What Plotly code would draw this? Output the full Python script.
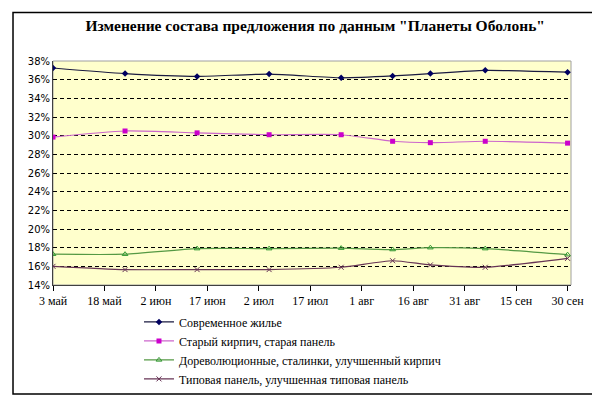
import plotly.graph_objects as go

dates = ["2004-05-03", "2004-05-24", "2004-06-14", "2004-07-05", "2004-07-26",
         "2004-08-10", "2004-08-21", "2004-09-06", "2004-09-30"]

modern = [37.25, 36.65, 36.35, 36.6, 36.2, 36.4, 36.65, 37.0, 36.8]
old_brick = [29.85, 30.5, 30.3, 30.1, 30.1, 29.4, 29.25, 29.4, 29.2]
stalin = [17.3, 17.3, 17.9, 17.9, 17.95, 17.8, 18.0, 17.9, 17.25]
panel = [16.0, 15.65, 15.65, 15.65, 15.9, 16.6, 16.15, 15.9, 16.85]

series_names = [
    "Современное жилье",
    "Старый кирпич, старая панель",
    "Дореволюционные, сталинки, улучшенный кирпич",
    "Типовая панель, улучшенная типовая панель",
]

tick_dates = ["2004-05-03", "2004-05-18", "2004-06-02", "2004-06-17", "2004-07-02",
              "2004-07-17", "2004-08-01", "2004-08-16", "2004-08-31", "2004-09-15",
              "2004-09-30"]
tick_labels = ["3 май", "18 май", "2 июн", "17 июн", "2 июл", "17 июл",
               "1 авг", "16 авг", "31 авг", "15 сен", "30 сен"]

title_text = 'Изменение состава предложения по данным "Планеты Оболонь"'

SERIF = "Liberation Serif, Times New Roman, serif"

styles = [
    dict(line=dict(color="#1a1a40", width=1.2, shape="spline", smoothing=0.6),
         marker=dict(symbol="diamond", size=5, color="#000060")),
    dict(line=dict(color="#cc66cc", width=1.2, shape="spline", smoothing=0.6),
         marker=dict(symbol="square", size=5, color="#cc00cc")),
    dict(line=dict(color="#559944", width=1.2, shape="spline", smoothing=0.6),
         marker=dict(symbol="triangle-up-open", size=5, color="#339933",
                     line=dict(width=1, color="#339933"))),
    dict(line=dict(color="#663355", width=1.2, shape="spline", smoothing=0.6),
         marker=dict(symbol="x-thin-open", size=5, color="#663355",
                     line=dict(width=1, color="#663355"))),
]

fig = go.Figure()
for name, vals, st in zip(series_names, [modern, old_brick, stalin, panel], styles):
    fig.add_trace(go.Scatter(x=dates, y=vals, mode="lines+markers", name=name,
                             line=st["line"], marker=st["marker"]))

fig.update_layout(
    width=600, height=397,
    margin=dict(l=45, r=37, t=53, b=118),
    paper_bgcolor="white",
    plot_bgcolor="#ffffcc",
    title=dict(text=title_text, x=0.512, xanchor="center", y=0.955, yanchor="middle",
               font=dict(family=SERIF, size=15.5, color="black", weight="bold")),
    showlegend=True,
    legend=dict(x=0.166, xanchor="left", y=-0.1, yanchor="top",
                font=dict(family=SERIF, size=12, color="black"),
                bgcolor="rgba(0,0,0,0)", tracegroupgap=0, itemwidth=30),
    xaxis=dict(type="date", range=["2004-05-03", "2004-10-01"],
               tickvals=tick_dates, ticktext=tick_labels,
               ticks="outside", ticklen=5, tickcolor="black",
               showline=True, linecolor="#404040", linewidth=1,
               showgrid=False, zeroline=False,
               tickfont=dict(family=SERIF, size=12, color="black")),
    yaxis=dict(range=[14, 38], dtick=2, tick0=14, ticksuffix="%",
               showline=True, linecolor="#404040", linewidth=1,
               showgrid=True, gridcolor="black", gridwidth=1, griddash="4px,3px",
               zeroline=False, ticks="", ticklen=3,
               tickfont=dict(family="DejaVu Sans", size=10, color="black")),
)

# plot-area frame (top/right light gray)
fig.add_shape(type="rect", xref="paper", yref="paper", x0=0, x1=1, y0=0, y1=1,
              line=dict(color="#a0a0a0", width=1), layer="below")
# outer chart border
fig.add_shape(type="rect", xref="paper", yref="paper",
              x0=-0.0772, x1=1.052, y0=-0.4867, y1=1.2168,
              line=dict(color="black", width=1.5))

fig.write_html("out.html")
